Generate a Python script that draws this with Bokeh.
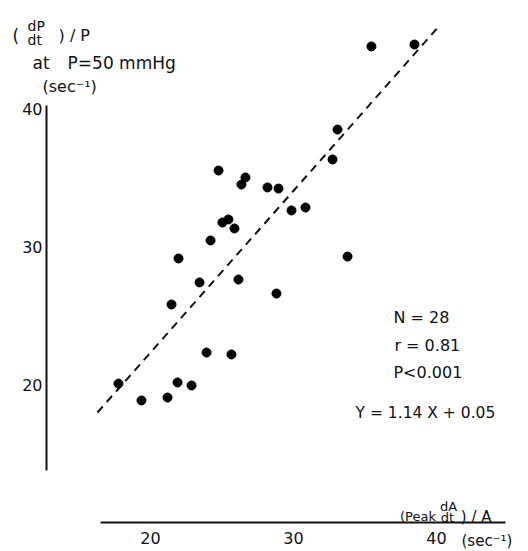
from bokeh.plotting import figure
from bokeh.models import FixedTicker, Label
from bokeh.embed import file_html
from bokeh.resources import INLINE

# peak (dA/dt)/A  (sec^-1)
x_vals = [35.45, 38.46, 33.08, 32.73, 24.76, 26.64, 26.36, 28.18, 28.95, 25.03,
          25.45, 25.87, 29.86, 30.84, 24.20, 21.96, 33.78, 23.43, 26.15, 28.81,
          21.47, 23.92, 25.66, 17.76, 21.89, 22.87, 19.37, 21.19]
# (dP/dt)/P at P = 50 mmHg  (sec^-1)
y_vals = [44.48, 44.62, 38.48, 36.32, 35.52, 35.02, 34.51, 34.30, 34.22, 31.77,
          31.99, 31.34, 32.64, 32.85, 30.47, 29.17, 29.31, 27.44, 27.65, 26.64,
          25.85, 22.38, 22.24, 20.14, 20.22, 20.00, 18.92, 19.13]

# regression line Y = 1.14 X + 0.05, end points
fit_x = [16.29, 40.28]
fit_y = [18.05, 46.06]

x_ticks = [20, 30, 40]
y_ticks = [20, 30, 40]

stats = ["N = 28", "r = 0.81", "P<0.001"]
equation = "Y = 1.14 X + 0.05"

FONT = "DejaVu Sans"

p = figure(width=528, height=551, output_backend="svg", toolbar_location=None,
           x_range=(9.510, 46.434), y_range=(8.014, 47.798),
           min_border_left=0, min_border_right=0, min_border_top=0,
           min_border_bottom=0)
p.outline_line_color = None
p.xgrid.visible = False
p.ygrid.visible = False
p.background_fill_color = "white"
p.border_fill_color = "white"

for ax in (p.xaxis[0], p.yaxis[0]):
    ax.axis_line_width = 2
    ax.axis_line_color = "#111111"
    ax.major_tick_out = 0
    ax.major_tick_in = 0
    ax.minor_tick_out = 0
    ax.minor_tick_in = 0
    ax.major_label_text_font = FONT
    ax.major_label_text_font_size = "16px"
    ax.major_label_text_color = "#111111"

p.xaxis[0].ticker = FixedTicker(ticks=x_ticks)
p.yaxis[0].ticker = FixedTicker(ticks=y_ticks)
p.xaxis[0].bounds = (16.50, 44.83)
p.yaxis[0].bounds = (13.86, 40.22)
p.xaxis[0].fixed_location = 10.108
p.yaxis[0].fixed_location = 12.727
p.xaxis[0].major_label_standoff = 10
p.yaxis[0].major_label_standoff = 4

p.line(fit_x, fit_y, line_dash="8 6", line_width=2, line_color="#111111")
p.scatter(x_vals, y_vals, size=9, fill_color="#000000", line_color="#000000")


def lab(x, y, text, size="16px"):
    p.add_layout(Label(x=x, y=y, text=text, text_font=FONT, text_font_size=size,
                       text_color="#111111", text_baseline="alphabetic",
                       text_align="left"))


# y axis title
lab(10.35, 45.27, "(", "17px")
lab(11.40, 45.99, "dP", "14px")
lab(11.40, 44.98, "dt", "14px")
lab(13.57, 45.27, ") / P", "16px")
lab(11.75, 43.25, "at", "17px")
lab(14.20, 43.25, "P=50 mmHg", "17px")
lab(12.45, 41.59, "(sec⁻¹)", "16px")

# x axis title
lab(37.45, 10.54, "(Peak", "13px")
lab(40.25, 11.26, "dA", "13px")
lab(40.30, 10.47, "dt", "13px")
lab(41.70, 10.54, ") / A", "15px")
lab(41.75, 8.80, "(sec⁻¹)", "15px")

# statistics
lab(36.99, 24.91, stats[0])
lab(37.06, 22.89, stats[1])
lab(36.99, 20.94, stats[2])
lab(34.34, 17.98, equation, "15.5px")

open("out.html", "w").write(file_html(p, INLINE))
